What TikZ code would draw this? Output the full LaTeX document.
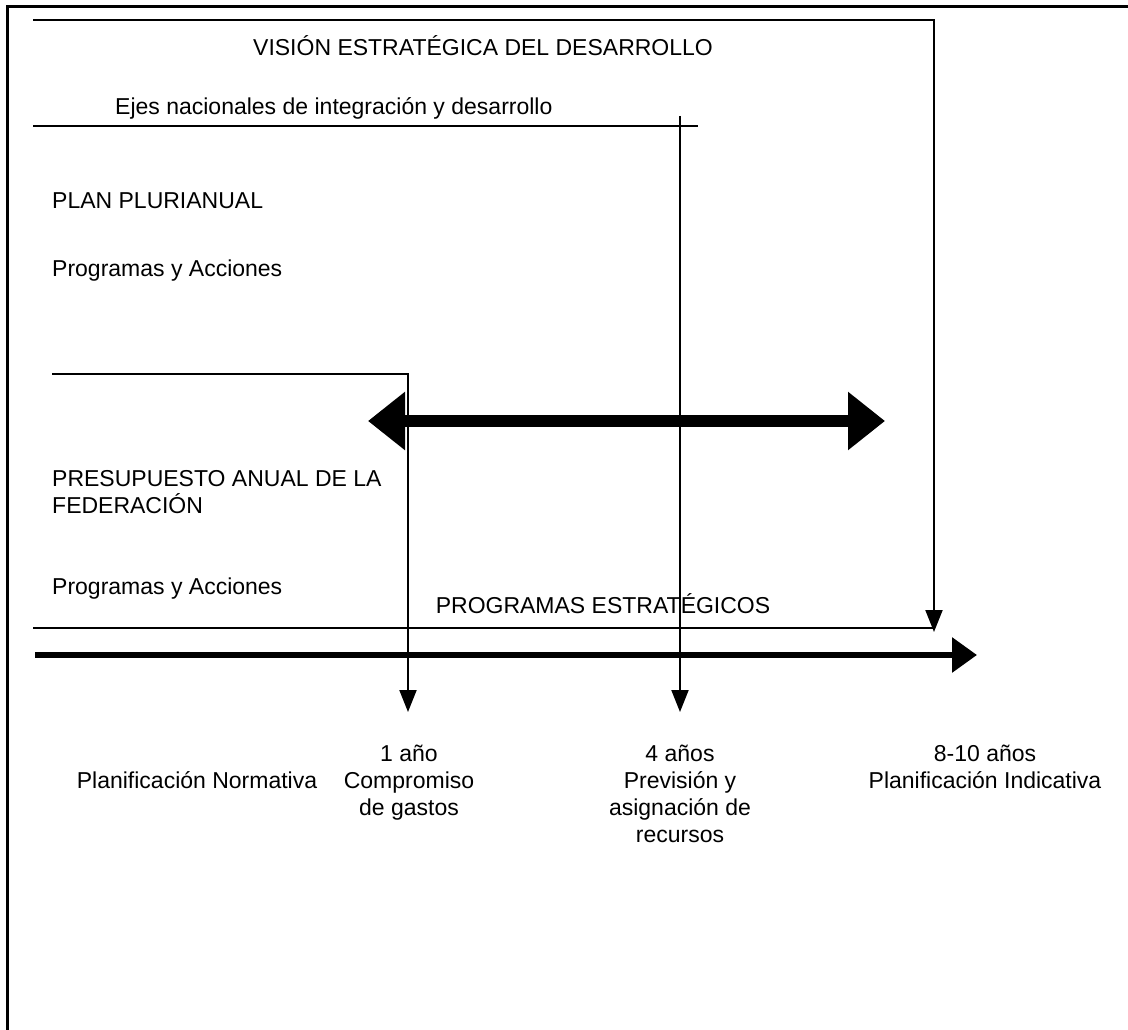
\documentclass[tikz,border=0pt]{standalone}
\usepackage{fontspec}
\setmainfont{Liberation Sans}
\usetikzlibrary{arrows.meta}
\begin{document}
\begin{tikzpicture}[x=1pt,y=-1pt,
  lbl/.style={inner sep=0pt, font=\fontsize{23}{27}\selectfont},
  framestroke/.style={line width=3pt},
  thinline/.style={line width=2pt},
  downarrow/.style={line width=2pt,-{Triangle[length=22pt,width=17pt]}},
  bigtwoway/.style={line width=12pt,{Triangle[length=37pt,width=56pt]}-{Triangle[length=37pt,width=56pt]}},
  timeline/.style={line width=6pt,-{Triangle[length=25pt,width=34pt]}}]
\useasboundingbox[fill=white] (0,0) rectangle (1128,1030);

% outer frame (top and left edges)
\draw[framestroke] (7,1030) -- (7,7) -- (1128,7);

% horizon brackets with their arrows down to the time axis
\coordinate (visA) at (33,20);
\coordinate (visB) at (934,20);
\coordinate (visC) at (934,632);
\draw[downarrow] (visA) -- (visB) -- (visC);

\coordinate (ejeA) at (33,126);
\coordinate (ejeB) at (698,126);
\draw[thinline] (ejeA) -- (ejeB);
\coordinate (cuatroA) at (680,116);
\coordinate (cuatroB) at (680,712);
\draw[downarrow] (cuatroA) -- (cuatroB);

\coordinate (planA) at (52,374);
\coordinate (planB) at (409,374);
\draw[thinline] (planA) -- (planB);
\coordinate (unoA) at (408,374);
\coordinate (unoB) at (408,712);
\draw[downarrow] (unoA) -- (unoB);

% double-headed arrow
\coordinate (dblL) at (368,421);
\coordinate (dblR) at (885,421);
\draw[bigtwoway] (dblL) -- (dblR);

% strategic programmes line and time axis
\coordinate (progA) at (33,628);
\coordinate (progB) at (935,628);
\draw[thinline] (progA) -- (progB);
\coordinate (axisA) at (35,655);
\coordinate (axisB) at (977,655);
\draw[timeline] (axisA) -- (axisB);

% labels
\node[lbl,anchor=base] (vision) at (483,56) {VISIÓN ESTRATÉGICA DEL DESARROLLO};
\node[lbl,anchor=base west] (ejes) at (115,115) {Ejes nacionales de integración y desarrollo};
\node[lbl,anchor=base west] (plan) at (52,208) {PLAN PLURIANUAL};
\node[lbl,anchor=base west] (progacc1) at (52,276) {Programas y Acciones};
\node[lbl,anchor=base west] (presu) at (52,486) {PRESUPUESTO ANUAL DE LA};
\node[lbl,anchor=base west] (fed) at (52,513) {FEDERACIÓN};
\node[lbl,anchor=base west] (progacc2) at (52,594) {Programas y Acciones};
\node[lbl,anchor=base] (progest) at (603,613) {PROGRAMAS ESTRATÉGICOS};

\node[lbl,anchor=base] (normativa) at (197,788) {Planificación Normativa};
\node[lbl,anchor=north,align=center] (uno) at (409,745) {1 año\\Compromiso\\de gastos};
\node[lbl,anchor=north,align=center] (cuatro) at (680,745) {4 años\\Previsión y\\asignación de\\recursos};
\node[lbl,anchor=north,align=center] (ocho) at (985,745) {8-10 años\\Planificación Indicativa};
\end{tikzpicture}
\end{document}
